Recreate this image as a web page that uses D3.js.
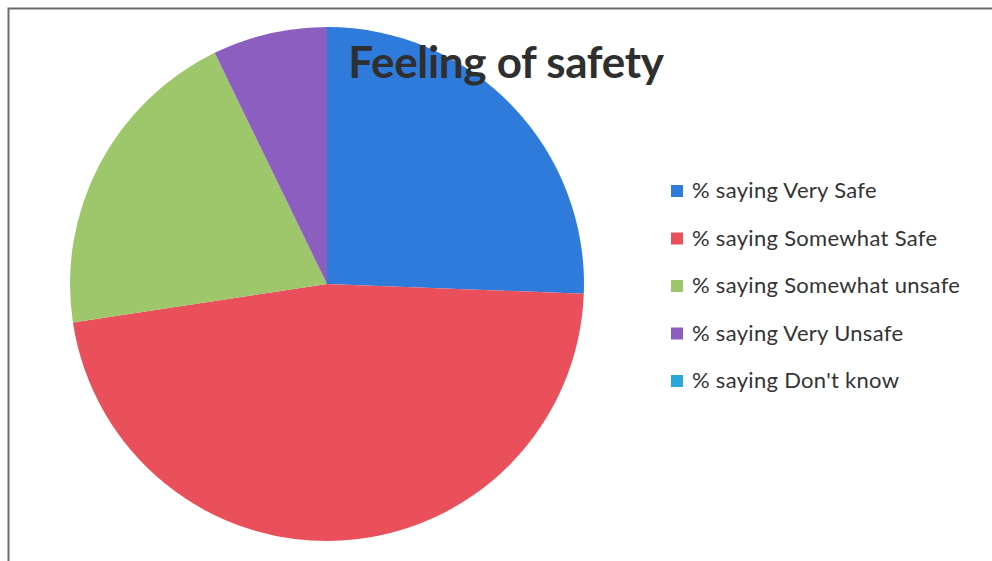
<!DOCTYPE html>
<html><head><meta charset="utf-8">
<script src="https://cdn.jsdelivr.net/npm/d3@7"></script>
<style>body{margin:0;background:#fff}svg{display:block}</style>
</head><body>
<svg id="c" width="992" height="561"></svg>
<script>
const categories = ["% saying Very Safe","% saying Somewhat Safe","% saying Somewhat unsafe","% saying Very Unsafe","% saying Don't know"];
const values = [25.6, 47.0, 20.2, 7.2, 0];
const colors = ["#2e7bdc","#e9505c","#9dc76a","#8c5ec0","#2aa6da"];
const title = "Feeling of safety";

const svg = d3.select("#c");
svg.append("rect").attr("x",0).attr("y",0).attr("width",992).attr("height",561).attr("fill","#fff");
// frame
svg.append("path").attr("d","M8.5,561 L8.5,8.5 L992,8.5").attr("fill","none").attr("stroke","#6b6b6b").attr("stroke-width",2);

const cx = 327, cy = 284, r = 257;
const pie = d3.pie().sort(null).value(d=>d)(values);
const arc = d3.arc().innerRadius(0).outerRadius(r);
const g = svg.append("g").attr("transform",`translate(${cx},${cy})`);
g.selectAll("path").data(pie).join("path").attr("d",arc).attr("fill",(d,i)=>colors[i]);

svg.append("text").attr("x",506).attr("y",78).attr("text-anchor","middle")
  .attr("font-family","Lato, 'Open Sans', sans-serif").attr("font-weight","bold").attr("font-size",44)
  .attr("fill","#2f2f2f").attr("letter-spacing","-0.3").text(title);

const leg = svg.append("g");
const ly0 = 191, ldy = 47.5;
categories.forEach((c,i)=>{
  const y = ly0 + i*ldy;
  leg.append("rect").attr("x",671).attr("y",y-6).attr("width",12).attr("height",12).attr("fill",colors[i]);
  leg.append("text").attr("x",692).attr("y",y+7).attr("font-family","Lato, 'Open Sans', sans-serif")
    .attr("font-size",22).attr("letter-spacing","0.3").attr("fill","#333").text(c);
});
</script>
</body></html>
